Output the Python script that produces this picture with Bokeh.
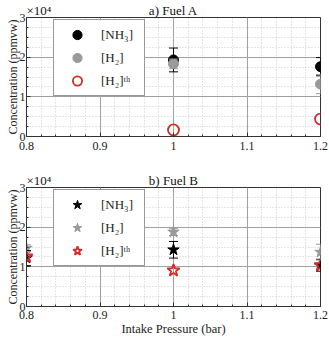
from bokeh.plotting import figure
from bokeh.layouts import column
from bokeh.models import (ColumnDataSource, Whisker, TeeHead, Legend, LegendItem,
                          FixedTicker, Range1d)
from bokeh.embed import file_html
from bokeh.resources import INLINE

# ---------------- data ----------------
pressure_ticks = [0.8, 0.9, 1.0, 1.1, 1.2]
pressure_tick_labels = ["0.8", "0.9", "1", "1.1", "1.2"]
conc_ticks = [0, 10000, 20000, 30000]
conc_tick_labels = ["0", "1", "2", "3"]

a_pressure = [1.0, 1.2]
a_nh3 = [19300, 17600]
a_nh3_err = [3000, 2300]
a_h2 = [18300, 13200]
a_h2_err = [1200, 2400]
a_h2th = [1650, 4400]

b_pressure = [0.8, 1.0, 1.2]
b_nh3 = [12200, 14300, 10400]
b_nh3_err = [1900, 2100, 1500]
b_h2 = [14700, 18800, 13700]
b_h2_err = [850, 900, 2000]
b_h2th = [12600, 9100, 10400]

labels = ["[NH\u2083]", "[H\u2082]", "[H\u2082]\u1d57\u02b0"]
titles = ["a) Fuel A", "b) Fuel B"]
multiplier = "\u00d710\u2074"

FONT = "Liberation Serif"
BLACK = "#000000"
GRAY = "#9a9a9a"
RED = "#d42a2a"


def make_panel(title, xs, nh3, nh3_err, h2, h2_err, h2th, marker, msize,
               height, bottom, xlabel):
    p = figure(width=329, height=height, x_range=Range1d(0.8, 1.2),
               y_range=Range1d(0, 30000), output_backend="svg",
               toolbar_location=None, min_border_left=26, min_border_right=9,
               min_border_top=15, min_border_bottom=bottom)
    p.background_fill_color = "white"
    p.outline_line_color = "#333333"
    p.outline_line_width = 1

    xminor = [round(0.8 + 0.02 * i, 2) for i in range(21)]
    yminor = [2500 * i for i in range(13)]
    p.xaxis.ticker = FixedTicker(ticks=pressure_ticks, minor_ticks=xminor)
    p.yaxis.ticker = FixedTicker(ticks=conc_ticks, minor_ticks=yminor)
    p.xaxis.major_label_overrides = {t: l for t, l in zip(pressure_ticks, pressure_tick_labels)}
    p.yaxis.major_label_overrides = {t: l for t, l in zip(conc_ticks, conc_tick_labels)}

    for ax in (p.xaxis, p.yaxis):
        ax.axis_line_color = "#333333"
        ax.major_tick_line_color = "#333333"
        ax.minor_tick_line_color = "#333333"
        ax.major_tick_in = 4
        ax.major_tick_out = 0
        ax.minor_tick_in = 2
        ax.minor_tick_out = 0
        ax.major_label_text_font = FONT
        ax.major_label_text_font_size = "12px"
        ax.major_label_text_color = "#222222"
        ax.axis_label_text_font = FONT
        ax.axis_label_text_font_style = "normal"
        ax.axis_label_text_font_size = "12.5px"
        ax.axis_label_text_color = "#222222"
        ax.axis_label_standoff = 0
    p.yaxis.major_label_standoff = 1
    p.yaxis.axis_label_text_font_size = "12px"
    p.yaxis.axis_label_standoff = -3
    p.xaxis.major_label_standoff = 5

    p.yaxis.axis_label = "Concentration (ppmvw)"
    if xlabel:
        p.xaxis.axis_label = "Intake Pressure (bar)"
        p.xaxis.major_label_standoff = 4

    for g in (p.xgrid, p.ygrid):
        g.grid_line_color = "#a0a0a0"
        g.grid_line_width = 1
        g.minor_grid_line_color = "#cccccc"
        g.minor_grid_line_dash = "1 2"

    # title line: multiplier at the left, panel title centred
    p.title.text = multiplier + "\u00a0" * 30 + title
    p.title.align = "left"
    p.title.text_font = FONT
    p.title.text_font_style = "normal"
    p.title.text_font_size = "13px"
    p.title.text_color = "#111111"
    p.title.standoff = 0

    # error bars + markers
    src_n = ColumnDataSource(dict(x=xs, y=nh3,
                                  lo=[v - e for v, e in zip(nh3, nh3_err)],
                                  hi=[v + e for v, e in zip(nh3, nh3_err)]))
    src_h = ColumnDataSource(dict(x=xs, y=h2,
                                  lo=[v - e for v, e in zip(h2, h2_err)],
                                  hi=[v + e for v, e in zip(h2, h2_err)]))
    src_t = ColumnDataSource(dict(x=xs, y=h2th))

    wn = Whisker(source=src_n, base="x", lower="lo", upper="hi",
                 line_color=BLACK, line_width=1, level="glyph",
                 upper_head=TeeHead(size=9, line_color=BLACK, line_width=1),
                 lower_head=TeeHead(size=9, line_color=BLACK, line_width=1))
    p.add_layout(wn)
    rn = p.scatter("x", "y", source=src_n, marker=marker, size=msize,
                   fill_color=BLACK, line_color=BLACK)
    wh = Whisker(source=src_h, base="x", lower="lo", upper="hi",
                 line_color=GRAY, line_width=1, level="glyph",
                 upper_head=TeeHead(size=9, line_color=GRAY, line_width=1),
                 lower_head=TeeHead(size=9, line_color=GRAY, line_width=1))
    p.add_layout(wh)
    rh = p.scatter("x", "y", source=src_h, marker=marker, size=msize,
                   fill_color=GRAY, line_color=GRAY)
    rt = p.scatter("x", "y", source=src_t, marker=marker, size=msize + 1,
                   fill_color=None, line_color=RED, line_width=1.8)

    legend = Legend(items=[LegendItem(label=labels[0], renderers=[rn]),
                           LegendItem(label=labels[1], renderers=[rh]),
                           LegendItem(label=labels[2], renderers=[rt])],
                    location=(27, 40))
    legend.border_line_color = "#333333"
    legend.border_line_width = 1
    legend.background_fill_color = "white"
    legend.background_fill_alpha = 1
    legend.label_text_font = FONT
    legend.label_text_font_size = "13px"
    legend.label_text_color = "#222222"
    legend.glyph_width = 40
    legend.glyph_height = 23
    legend.label_height = 23
    legend.label_width = 40
    legend.spacing = 0
    legend.padding = 3
    legend.margin = 0
    legend.label_standoff = 4
    p.add_layout(legend, "center")
    return p


top = make_panel(titles[0], a_pressure, a_nh3, a_nh3_err, a_h2, a_h2_err,
                 a_h2th, "circle", 10, 170, 34, False)
bot = make_panel(titles[1], b_pressure, b_nh3, b_nh3_err, b_h2, b_h2_err,
                 b_h2th, "star", 12, 168, 32, True)

layout = column(top, bot, spacing=0)
open("out.html", "w").write(file_html(layout, INLINE))
